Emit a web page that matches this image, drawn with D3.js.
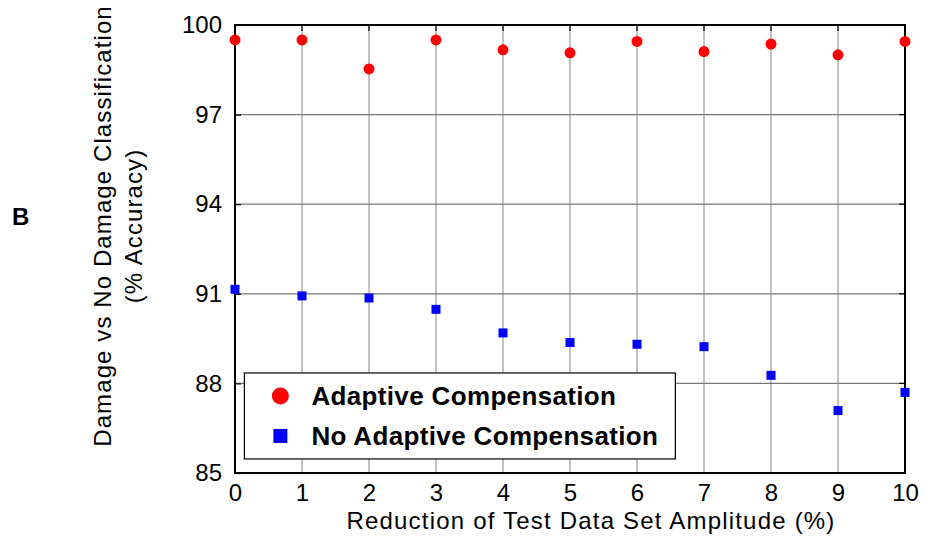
<!DOCTYPE html>
<html>
<head>
<meta charset="utf-8">
<script src="https://cdn.jsdelivr.net/npm/d3@7"></script>
<style>
  body { margin: 0; background: #fff; }
  text { font-family: "Liberation Sans", Arial, sans-serif; }
</style>
</head>
<body>
<div id="plot"></div>
<script>
// data
var reduction = [0, 1, 2, 3, 4, 5, 6, 7, 8, 9, 10];
var adaptive = [99.5, 99.5, 98.53, 99.5, 99.17, 99.07, 99.45, 99.11, 99.36, 99.0, 99.45];
var noAdaptive = [91.15, 90.93, 90.86, 90.48, 89.69, 89.37, 89.31, 89.23, 88.27, 87.09, 87.7];
var yTicks = [85, 88, 91, 94, 97, 100];
var xTicks = [0, 1, 2, 3, 4, 5, 6, 7, 8, 9, 10];
var legendLabels = ["Adaptive Compensation", "No Adaptive Compensation"];

var svgWidth = 930, svgHeight = 542;
var margin = { top: 25, right: 25, bottom: 69, left: 235 };
var width = svgWidth - margin.left - margin.right;
var height = svgHeight - margin.top - margin.bottom;

var svg = d3.select("#plot").append("svg")
  .attr("width", svgWidth)
  .attr("height", svgHeight);

var chartGroup = svg.append("g")
  .attr("transform", `translate(${margin.left}, ${margin.top})`);

var xScale = d3.scaleLinear().domain([0, 10]).range([0, width]);
var yScale = d3.scaleLinear().domain([85, 100]).range([height, 0]);

// grid lines
chartGroup.append("g")
  .selectAll("line")
  .data(xTicks.slice(1, -1))
  .enter().append("line")
  .attr("x1", d => xScale(d)).attr("x2", d => xScale(d))
  .attr("y1", 0).attr("y2", height)
  .attr("stroke", "#999").attr("stroke-width", 1.2);

chartGroup.append("g")
  .selectAll("line")
  .data(yTicks.slice(1, -1))
  .enter().append("line")
  .attr("x1", 0).attr("x2", width)
  .attr("y1", d => yScale(d)).attr("y2", d => yScale(d))
  .attr("stroke", "#777").attr("stroke-width", 1.2);

// axes (inward ticks, labels outside)
var xAxis = d3.axisBottom(xScale).tickValues(xTicks).tickSize(0).tickPadding(11);
var yAxis = d3.axisLeft(yScale).tickValues(yTicks).tickSize(-6).tickPadding(13);

var gx = chartGroup.append("g")
  .attr("transform", `translate(0, ${height})`)
  .call(xAxis);
var gy = chartGroup.append("g").call(yAxis);

[gx, gy].forEach(function (g) {
  g.select(".domain").remove();
  g.selectAll("text")
    .style("font-size", "24px")
    .style("font-family", "'Liberation Sans', Arial, sans-serif")
    .attr("fill", "#000");
  g.selectAll("line").attr("stroke", "#000").attr("stroke-width", 1.2);
});

// top and right inward ticks
chartGroup.append("g")
  .selectAll("line")
  .data(xTicks)
  .enter().append("line")
  .attr("x1", d => xScale(d)).attr("x2", d => xScale(d))
  .attr("y1", 0).attr("y2", 6)
  .attr("stroke", "#000").attr("stroke-width", 1.2);

chartGroup.append("g")
  .selectAll("line")
  .data(yTicks)
  .enter().append("line")
  .attr("x1", width - 6).attr("x2", width)
  .attr("y1", d => yScale(d)).attr("y2", d => yScale(d))
  .attr("stroke", "#000").attr("stroke-width", 1.2);

// frame
chartGroup.append("rect")
  .attr("width", width).attr("height", height)
  .attr("fill", "none")
  .attr("stroke", "#000")
  .attr("stroke-width", 2);

// points
chartGroup.selectAll(".red")
  .data(reduction)
  .enter().append("circle")
  .attr("class", "red")
  .attr("cx", d => xScale(d))
  .attr("cy", (d, i) => yScale(adaptive[i]))
  .attr("r", 5.5)
  .attr("fill", "#ff0000");

var sq = 9;
chartGroup.selectAll(".blue")
  .data(reduction)
  .enter().append("rect")
  .attr("class", "blue")
  .attr("x", d => xScale(d) - sq / 2)
  .attr("y", (d, i) => yScale(noAdaptive[i]) - sq / 2)
  .attr("width", sq).attr("height", sq)
  .attr("fill", "#0000ff");

// legend
var legend = chartGroup.append("g")
  .attr("transform", `translate(${xScale(0.14)}, ${yScale(88.35)})`);

legend.append("rect")
  .attr("width", 431).attr("height", 86)
  .attr("fill", "#fff")
  .attr("stroke", "#000")
  .attr("stroke-width", 1.2);

legend.append("circle")
  .attr("cx", 36).attr("cy", 23)
  .attr("r", 8.5)
  .attr("fill", "#ff0000");

legend.append("rect")
  .attr("x", 29).attr("y", 56)
  .attr("width", 14).attr("height", 14)
  .attr("fill", "#0000ff");

legend.selectAll("text")
  .data(legendLabels)
  .enter().append("text")
  .attr("x", 67)
  .attr("y", (d, i) => 32 + i * 40)
  .style("font-size", "26px")
  .style("letter-spacing", "0.35px")
  .style("font-weight", "bold")
  .text(d => d);

// axis titles
svg.append("text")
  .attr("x", 591)
  .attr("y", 529)
  .attr("text-anchor", "middle")
  .style("font-size", "24px")
  .style("letter-spacing", "1.2px")
  .text("Reduction of Test Data Set Amplitude (%)");

svg.append("text")
  .attr("transform", "translate(111, 226) rotate(-90)")
  .attr("text-anchor", "middle")
  .style("font-size", "24px")
  .style("letter-spacing", "1.1px")
  .text("Damage vs No Damage Classification");

svg.append("text")
  .attr("transform", "translate(142, 226) rotate(-90)")
  .attr("text-anchor", "middle")
  .style("font-size", "24px")
  .style("letter-spacing", "1.1px")
  .text("(% Accuracy)");

svg.append("text")
  .attr("x", 12)
  .attr("y", 225)
  .style("font-size", "24px")
  .style("font-weight", "bold")
  .text("B");
</script>
</body>
</html>
